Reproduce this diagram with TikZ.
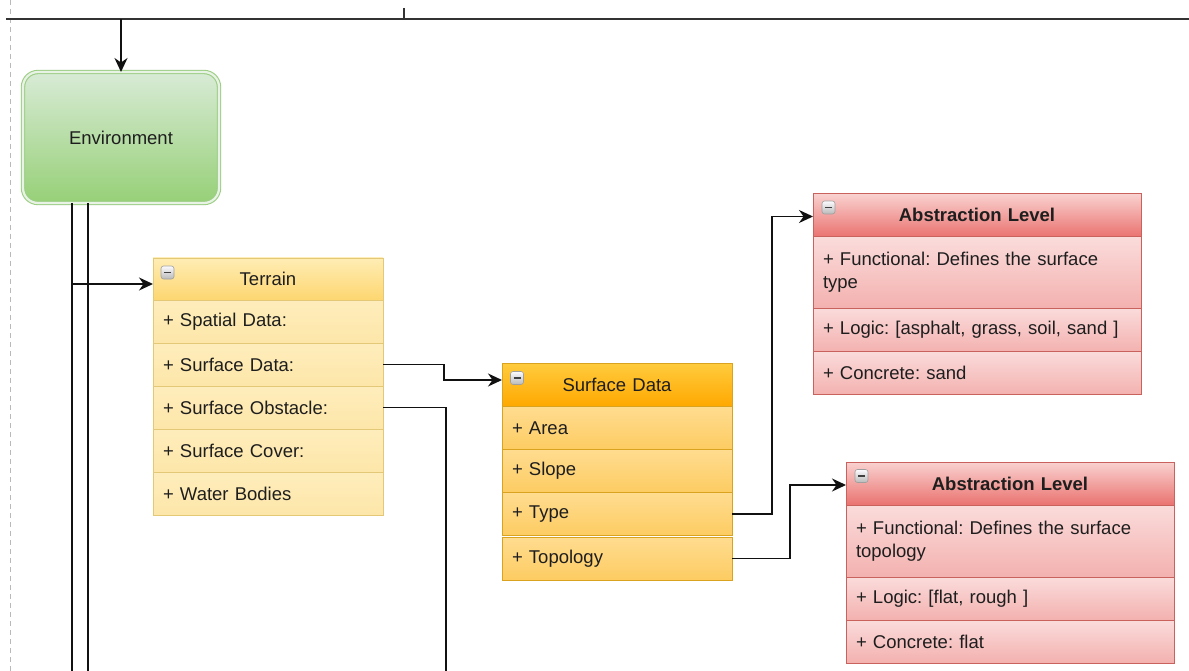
\documentclass[tikz,border=0pt]{standalone}
\usepackage{fontspec}
\setmainfont{Liberation Sans}
\usetikzlibrary{arrows.meta,calc}
\frenchspacing
\definecolor{txt}{HTML}{1E1E1E}
\definecolor{yelTop}{HTML}{FFEDB5}
\definecolor{yelBot}{HTML}{FDD670}
\definecolor{yelRowT}{HTML}{FEEDBC}
\definecolor{yelRowB}{HTML}{FDE6A8}
\definecolor{yelLine}{HTML}{E3C878}
\definecolor{orTop}{HTML}{FFCB3D}
\definecolor{orBot}{HTML}{FFA800}
\definecolor{orRowT}{HTML}{FFDC90}
\definecolor{orRowB}{HTML}{FDCC62}
\definecolor{orLine}{HTML}{D9A21F}
\definecolor{rdTop}{HTML}{F9D2D0}
\definecolor{rdBot}{HTML}{EA7370}
\definecolor{rdRowT}{HTML}{FADCDB}
\definecolor{rdRowB}{HTML}{F3B1AF}
\definecolor{rdLine}{HTML}{C9615D}
\definecolor{envTop}{HTML}{D8EBD6}
\definecolor{envBot}{HTML}{97D077}
\definecolor{envLine}{HTML}{9CCE84}
\definecolor{wire}{HTML}{111111}
\tikzset{
  cell/.style={draw, rectangle, anchor=north west, inner xsep=10pt, inner ysep=0pt,
    outer sep=0pt, line width=0.8pt, align=left, text=txt, font=\fontsize{18.5}{23}\selectfont},
  yhead/.style={cell, draw=yelLine, top color=yelTop, bottom color=yelBot, align=center},
  yrow/.style={cell, draw=yelLine, top color=yelRowT, bottom color=yelRowB},
  ohead/.style={cell, draw=orLine, top color=orTop, bottom color=orBot, align=center},
  orow/.style={cell, draw=orLine, top color=orRowT, bottom color=orRowB},
  rhead/.style={cell, draw=rdLine, top color=rdTop, bottom color=rdBot, align=center,
    font=\fontsize{18.5}{23}\selectfont\bfseries},
  rrow/.style={cell, draw=rdLine, top color=rdRowT, bottom color=rdRowB},
  minusicon/.style={draw=gray!75, rounded corners=2.5pt, minimum size=13pt, inner sep=0pt,
    top color=white!85!blue!10, bottom color=gray!55, line width=0.6pt,
    path picture={\draw[line width=1.6pt, black!75]
      ([xshift=-3.5pt]path picture bounding box.center) -- ([xshift=3.5pt]path picture bounding box.center);}},
  conn/.style={draw=wire, line width=1.8pt},
  arr/.style={conn, -{Stealth[length=14pt,width=13pt]}},
}
\begin{document}
\begin{tikzpicture}[x=1pt,y=-1pt]
\useasboundingbox (0,0) rectangle (1189,671);
\fill[white] (0,0) rectangle (1189,671);
% dashed page border
\draw[gray!55, dash pattern=on 5pt off 4pt, line width=0.8pt] (10.5,0) -- (10.5,671);
% top bus line
\coordinate (busL) at (6,19);
\coordinate (busR) at (1189,19);
\coordinate (tick) at (404,8);
\draw[draw=black!80, line width=2pt] (busL) -- (busR);
\draw[draw=black!80, line width=2pt] (tick) -- (tick |- busL);

% Environment
\node[draw=envLine, double=envTop!60!white, double distance=2.2pt, line width=1.1pt,
  rounded corners=15pt, top color=envTop, bottom color=envBot, outer sep=0pt,
  minimum width=196pt, minimum height=131pt, anchor=north west,
  font=\fontsize{18.5}{23}\selectfont, text=txt] (env) at (23,72) {Environment};
\draw[arr] (env.north |- busL) -- (env.north);

\coordinate (envL) at (72,671);
\coordinate (envR) at (88,671);
\draw[conn] (envL |- env.south) -- (envL);
\draw[conn] (envR |- env.south) -- (envR);

% Terrain
\node[yhead, text width=210pt, minimum height=42pt] (tH) at (153,258) {Terrain};
\node[yrow, text width=210pt, minimum height=43pt] (tSpat) at (153,300) {+ Spatial Data:};
\node[yrow, text width=210pt, minimum height=43pt] (tSurf) at (153,343) {+ Surface Data:};
\node[yrow, text width=210pt, minimum height=43pt] (tObs) at (153,386) {+ Surface Obstacle:};
\node[yrow, text width=210pt, minimum height=43pt] (tCov) at (153,429) {+ Surface Cover:};
\node[yrow, text width=210pt, minimum height=43pt] (tWat) at (153,472) {+ Water Bodies};
\node[minusicon] (tIcon) at ($(tH.north west)+(14.5,14.5)$) {};
\draw[arr] (envL |- {$(tH.west)+(0,5)$}) -- ($(tH.west)+(0,5)$);

% Surface Data
\node[ohead, text width=210pt, minimum height=43pt] (sH) at (502,363.5) {Surface Data};
\node[orow, text width=210pt, minimum height=43pt] (sArea) at (502,406.5) {+ Area};
\node[orow, text width=210pt, minimum height=43pt] (sSlope) at (502,449.5) {+ Slope};
\node[orow, text width=210pt, minimum height=43pt] (sType) at (502,492.5) {+ Type};
\node[orow, text width=210pt, minimum height=43pt] (sTopo) at (502,537) {+ Topology};
\node[minusicon] (sIcon) at ($(sH.north west)+(15,14.5)$) {};

% Abstraction Level 1
\node[rhead, text width=308pt, minimum height=43pt] (aH) at (813,193.5) {Abstraction Level};
\node[rrow, text width=308pt, minimum height=72pt] (aFun) at (813,236.5) {+ Functional: Defines the surface\\type};
\node[rrow, text width=308pt, minimum height=43pt] (aLog) at (813,308.5) {+ Logic: [asphalt, grass, soil, sand ]};
\node[rrow, text width=308pt, minimum height=43pt] (aCon) at (813,351.5) {+ Concrete: sand};
\node[minusicon] (aIcon) at ($(aH.north west)+(15.5,14)$) {};

% Abstraction Level 2
\node[rhead, text width=308pt, minimum height=43pt] (bH) at (846,462) {Abstraction Level};
\node[rrow, text width=308pt, minimum height=72pt] (bFun) at (846,505) {+ Functional: Defines the surface\\topology};
\node[rrow, text width=308pt, minimum height=43pt] (bLog) at (846,577) {+ Logic: [flat, rough ]};
\node[rrow, text width=308pt, minimum height=43pt] (bCon) at (846,620) {+ Concrete: flat};
\node[minusicon] (bIcon) at ($(bH.north west)+(15.5,14)$) {};

% connectors
\draw[arr] (tSurf.east) -- ++(61,0) |- ($(sH.west)+(0,-5)$);
\coordinate (obsEnd) at (446,671);
\draw[conn] (tObs.east) -| (obsEnd);
\draw[arr] (sType.east) -- ++(40,0) |- ($(aH.west)+(0,1.5)$);
\draw[arr] (sTopo.east) -- ++(58,0) |- ($(bH.west)+(0,1.5)$);
\end{tikzpicture}
\end{document}
